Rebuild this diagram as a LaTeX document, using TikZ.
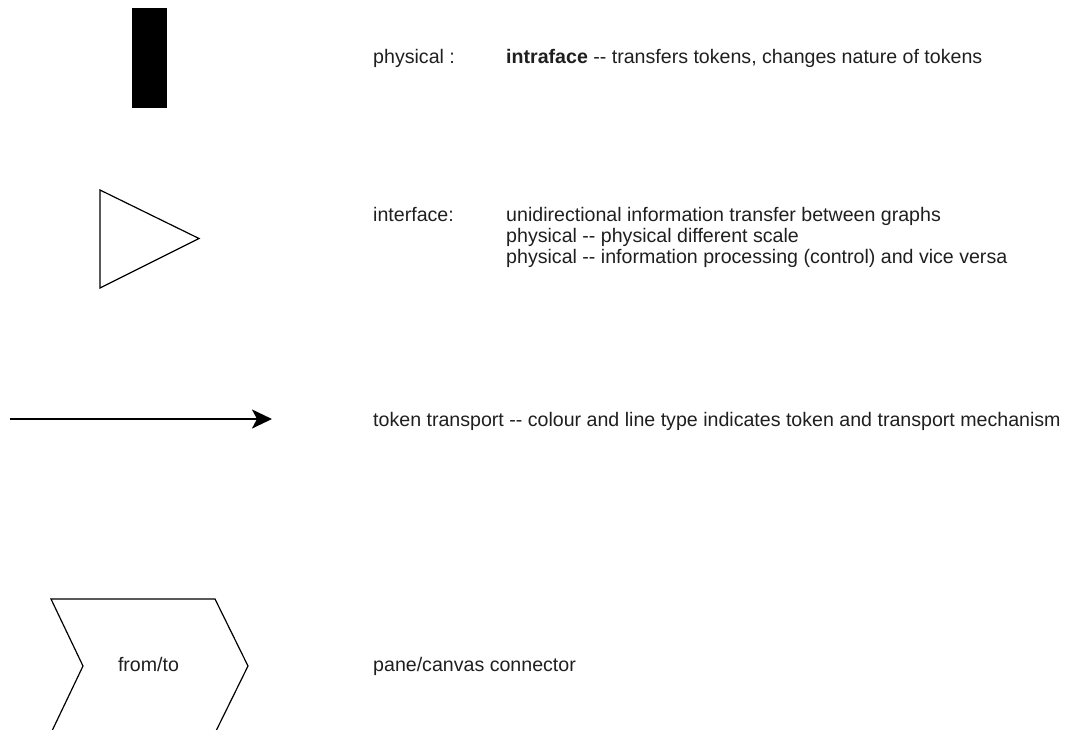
\documentclass[tikz,border=0pt]{standalone}
\usepackage{fontspec}
\setmainfont{Liberation Sans}
\usetikzlibrary{arrows.meta}
\newcommand{\dd}{-{}-}
\begin{document}
\begin{tikzpicture}[x=1pt,y=-1pt,
  label/.style={anchor=base west,inner sep=0pt,font=\fontsize{19.6}{21}\selectfont,text=black!88},
  outline/.style={draw=black,line width=1.2pt,line join=miter}]
  \useasboundingbox (0,0) rectangle (1075,729);

  % intraface symbol
  \fill[black] (132,8) rectangle (167,108);
  \node[label] (phys) at (373,63) {physical :};
  \node[label] (phystxt) at (506,63) {\textbf{intraface} \dd{} transfers tokens, changes nature of tokens};

  % interface symbol
  \draw[outline] (100,190) -- (199,238.5) -- (100,288) -- cycle;
  \node[label] (iface) at (373,221) {interface:};
  \node[label] (ifaceA) at (506,221) {unidirectional information transfer between graphs};
  \node[label] (ifaceB) at (506,242) {physical \dd{} physical different scale};
  \node[label] (ifaceC) at (506,263) {physical \dd{} information processing (control) and vice versa};

  % token transport
  \coordinate (ts) at (10,419);
  \coordinate (te) at (272,419);
  \draw[line width=2.4pt,-{Stealth[length=20pt,width=19pt,inset=5pt]}] (ts) -- (te);
  \node[label] (tok) at (373,426) {token transport \dd{} colour and line type indicates token and transport mechanism};

  % pane/canvas connector
  \begin{scope}
    \clip (0,0) rectangle (1075,729);
    \draw[outline] (51,599) -- (215,599) -- (248,666) -- (215,733) -- (51,733) -- (83,666) -- cycle;
  \end{scope}
  \node[label,anchor=base] (ft) at (148.5,671) {from/to};
  \node[label] (pane) at (373,671) {pane/canvas connector};
\end{tikzpicture}
\end{document}
